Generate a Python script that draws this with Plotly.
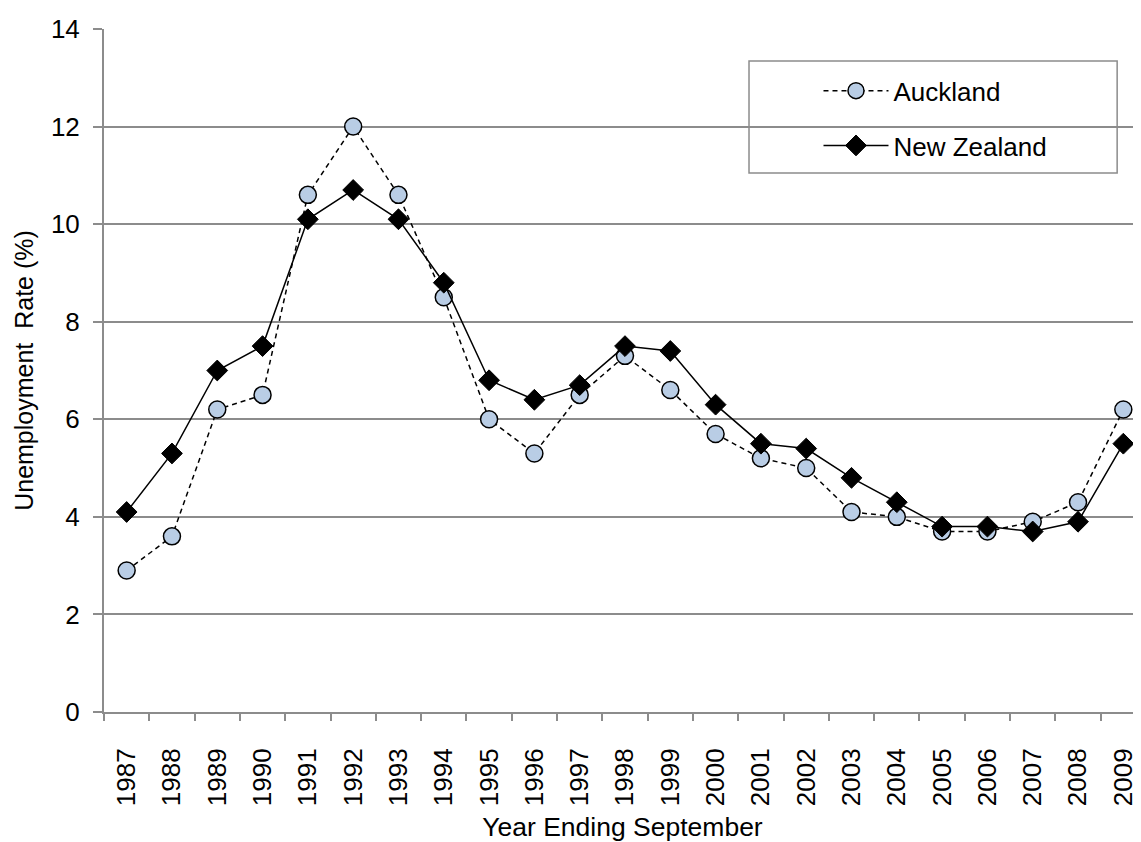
import plotly.graph_objects as go

years = [str(y) for y in range(1987, 2010)]
auckland = [2.9, 3.6, 6.2, 6.5, 10.6, 12.0, 10.6, 8.5, 6.0, 5.3, 6.5, 7.3, 6.6, 5.7,
            5.2, 5.0, 4.1, 4.0, 3.7, 3.7, 3.9, 4.3, 6.2]
new_zealand = [4.1, 5.3, 7.0, 7.5, 10.1, 10.7, 10.1, 8.8, 6.8, 6.4, 6.7, 7.5, 7.4, 6.3,
               5.5, 5.4, 4.8, 4.3, 3.8, 3.8, 3.7, 3.9, 5.5]
y_ticks = [0, 2, 4, 6, 8, 10, 12, 14]

FONT = "Liberation Sans, Arial, sans-serif"
GRID = "#8c8c8c"

fig = go.Figure()
fig.add_trace(go.Scatter(
    x=years, y=auckland, name="Auckland", mode="lines+markers",
    legendgroup="a",
    line=dict(color="black", width=1.5, dash="5px,4px"),
    marker=dict(symbol="circle", size=17, color="#b9cde5",
                line=dict(color="black", width=1.5)),
))
fig.add_trace(go.Scatter(
    x=years, y=new_zealand, name="New Zealand", mode="lines+markers",
    legendgroup="b",
    line=dict(color="black", width=1.5),
    marker=dict(symbol="diamond", size=16, color="black",
                line=dict(color="black", width=1)),
))

# legend frame
fig.add_shape(type="rect", xref="paper", yref="paper",
              x0=0.622, x1=0.977, y0=0.789, y1=0.953,
              fillcolor="white", line=dict(color=GRID, width=1.5),
              layer="between")

fig.update_layout(
    width=1133, height=834,
    margin=dict(l=96, r=0, t=21, b=130),
    paper_bgcolor="white", plot_bgcolor="white",
    font=dict(family=FONT, color="black", size=26),
    showlegend=True,
    legend=dict(x=0.689, y=0.944, xanchor="left", yanchor="top",
                bgcolor="rgba(0,0,0,0)", borderwidth=0,
                font=dict(size=26, family=FONT), tracegroupgap=18,
                itemwidth=65),
    xaxis=dict(
        type="category", range=[-0.5, 22.39], automargin=False,
        tickangle=-90, tickson="boundaries",
        ticks="outside", ticklen=7, tickwidth=1.5, tickcolor=GRID,
        showline=True, linecolor=GRID, linewidth=2,
        showgrid=False, zeroline=False,
        tickfont=dict(size=26, family=FONT),
        ticklabelstandoff=24,
        title=dict(text="Year Ending September", standoff=22,
                   font=dict(size=26.5, family=FONT)),
    ),
    yaxis=dict(
        range=[0, 14], tickvals=y_ticks, automargin=False,
        ticks="outside", ticklen=9, tickwidth=1.5, tickcolor=GRID,
        showline=True, linecolor=GRID, linewidth=2,
        showgrid=True, gridcolor=GRID, gridwidth=1.5, zeroline=False,
        tickfont=dict(size=26, family=FONT),
        ticklabelstandoff=8,
        title=dict(text="Unemployment\u00a0 Rate (%)", standoff=10,
                   font=dict(size=25, family=FONT)),
    ),
)

fig.write_html("out.html")
